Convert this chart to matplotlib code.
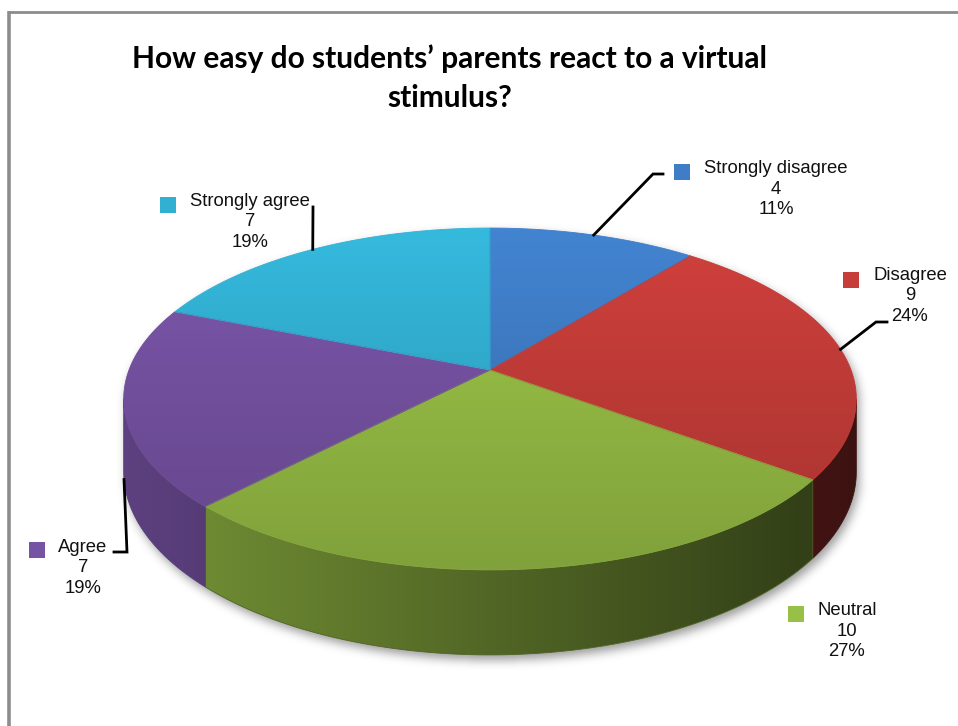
import numpy as np
import matplotlib
matplotlib.use("Agg")
import matplotlib.pyplot as plt
from matplotlib.patches import Polygon, Rectangle
from matplotlib.path import Path
from matplotlib.colors import to_rgb

# ---- data -------------------------------------------------------------
categories = ["Strongly disagree", "Disagree", "Neutral", "Agree", "Strongly agree"]
counts = [4, 9, 10, 7, 7]
slice_colors = ["#3f7dc6", "#c63d39", "#98bf46", "#7753a4", "#32b0d2"]
title_text = "How easy do students\u2019 parents react to a virtual\nstimulus?"

# ---- canvas (pixel coordinates, y downwards) --------------------------
W, H = 958, 726
fig = plt.figure(figsize=(W / 100, H / 100), dpi=100)
ax = fig.add_axes([0, 0, 1, 1])
ax.set_xlim(0, W)
ax.set_ylim(H, 0)
ax.set_aspect("auto")
ax.axis("off")

# ---- perspective disc projection --------------------------------------
CX, CY = 490.0, 370.0      # pie centre on screen
RA, RB, KP = 361.0, 166.0, 0.1695   # horizontal radius, depth radius, perspective
THICK = 70.6               # pie thickness


def project(theta_deg, drop=0.0):
    """theta measured clockwise from 12 o'clock; drop moves to the bottom face."""
    t = np.radians(theta_deg)
    u = np.sin(t)
    v = -np.cos(t)
    w = 1.0 - KP * v
    return CX + RA * u / w, CY + (RB * v + drop) / w


def arc(a, b, drop=0.0, n=None):
    n = n or max(8, int(abs(b - a) * 2))
    th = np.linspace(a, b, n)
    x, y = project(th, drop)
    return np.column_stack([x, y])


# silhouette angles (where the rim turns from top to side)
theta_r = np.degrees(np.arccos(-KP))
theta_l = 360.0 - theta_r

total = float(sum(counts))
bounds = np.concatenate([[0.0], np.cumsum(counts) / total * 360.0])


def gradient_fill(poly, color, fac_fn, zorder):
    xs, ys = poly[:, 0], poly[:, 1]
    x0, x1 = xs.min() - 1, xs.max() + 1
    y0, y1 = ys.min() - 1, ys.max() + 1
    nx, ny = int(x1 - x0) + 2, int(y1 - y0) + 2
    gx = np.linspace(x0, x1, nx)
    gy = np.linspace(y0, y1, ny)
    X, Y = np.meshgrid(gx, gy)
    f = fac_fn(X, Y)
    rgb = np.clip(np.array(to_rgb(color))[None, None, :] * f[..., None], 0, 1)
    im = ax.imshow(rgb, extent=(x0, x1, y1, y0), origin="upper",
                   zorder=zorder, interpolation="bilinear", aspect="auto")
    clip = Polygon(poly, closed=True, facecolor="none", edgecolor="none")
    ax.add_patch(clip)
    im.set_clip_path(clip)
    # soft edge to smooth the clipped border
    edge_col = np.clip(np.array(to_rgb(color)) * float(np.mean(f)), 0, 1)
    ax.add_patch(Polygon(poly, closed=True, facecolor="none",
                         edgecolor=edge_col, lw=0.6, zorder=zorder + 0.01))


# ---- drop shadow -------------------------------------------------------
outline = np.vstack([arc(theta_l, 360.0), arc(0.0, theta_r),
                     arc(theta_r, theta_l, THICK)])
gx, gy = np.meshgrid(np.arange(W) + 0.5, np.arange(H) + 0.5)
mask = Path(outline + np.array([3.0, 5.0])).contains_points(
    np.column_stack([gx.ravel(), gy.ravel()])).reshape(H, W).astype(float)
sig = 5.0
kr = np.arange(-15, 16)
ker = np.exp(-kr ** 2 / (2 * sig ** 2))
ker /= ker.sum()
blur = np.zeros_like(mask)
for k, wgt in zip(kr, ker):
    blur += wgt * np.roll(mask, k, axis=1)
blur2 = np.zeros_like(blur)
for k, wgt in zip(kr, ker):
    blur2 += wgt * np.roll(blur, k, axis=0)
shadow = np.zeros((H, W, 4))
shadow[..., 3] = 0.40 * blur2
ax.imshow(shadow, extent=(0, W, H, 0), origin="upper", zorder=1,
          interpolation="bilinear", aspect="auto")

# ---- side walls ----------------------------------------------------------
def side_factor(X, Y):
    return np.interp(X, [120, 500, 860], [0.78, 0.53, 0.30])

for i, col in enumerate(slice_colors):
    a, b = max(bounds[i], theta_r), min(bounds[i + 1], theta_l)
    if b <= a:
        continue
    poly = np.vstack([arc(a, b), arc(b, a, THICK)])
    gradient_fill(poly, col, side_factor, zorder=2)

# ---- top faces -------------------------------------------------------------
def top_factor(X, Y):
    return np.interp(Y, [225, 370, 575], [1.06, 0.96, 0.84])

for i, col in enumerate(slice_colors):
    poly = np.vstack([[CX, CY], arc(bounds[i], bounds[i + 1]), [CX, CY]])
    gradient_fill(poly, col, top_factor, zorder=3)

# ---- data labels -----------------------------------------------------------
label_pos = [(776, 189), (910, 296), (847, 631), (83, 568), (250, 222)]
marker_pos = [(682, 172), (851, 280), (796, 614), (37, 550), (168, 205)]
# leader line elbows (None: no leader)
elbows = [[(653, 174), (663, 174)],
          [(876, 322), (887, 322)],
          None,
          [(127, 552), (114, 552)],
          [(313, 207)]]
anchor_on_bottom = [False, False, False, True, False]

for i, name in enumerate(categories):
    pct = int(round(100 * counts[i] / total))
    lx, ly = label_pos[i]
    ax.text(lx, ly, f"{name}\n{counts[i]}\n{pct}%", ha="center", va="center",
            multialignment="center", fontsize=13.3, linespacing=1.3,
            family=["Liberation Sans", "DejaVu Sans"], color="#111111", zorder=6)
    mx, my = marker_pos[i]
    ax.add_patch(Rectangle((mx - 8, my - 8), 16, 16, facecolor=slice_colors[i],
                           edgecolor="none", zorder=6))
    if elbows[i] is not None:
        mid = 0.5 * (bounds[i] + bounds[i + 1])
        sx, sy = project(mid, THICK if anchor_on_bottom[i] else 0.0)
        pts = np.array([[sx, sy]] + elbows[i])
        ax.plot(pts[:, 0], pts[:, 1], color="black", lw=2.0, zorder=5,
                solid_joinstyle="miter")

# ---- title -----------------------------------------------------------------
ax.text(450, 78, title_text, ha="center", va="center", multialignment="center",
        fontsize=21.5, fontweight="bold", family=["Lato", "DejaVu Sans"],
        linespacing=1.45, color="black", zorder=6)

# ---- chart frame -----------------------------------------------------------
ax.plot([9.5, 9.5], [11, H + 5], color="#8c8c8c", lw=2.6, zorder=7,
        solid_capstyle="butt")
ax.plot([8, W + 5], [12, 12], color="#8c8c8c", lw=2.0, zorder=7,
        solid_capstyle="butt")

ax.set_xlim(0, W)
ax.set_ylim(H, 0)
fig.savefig("out.png", dpi=100, facecolor="white")
